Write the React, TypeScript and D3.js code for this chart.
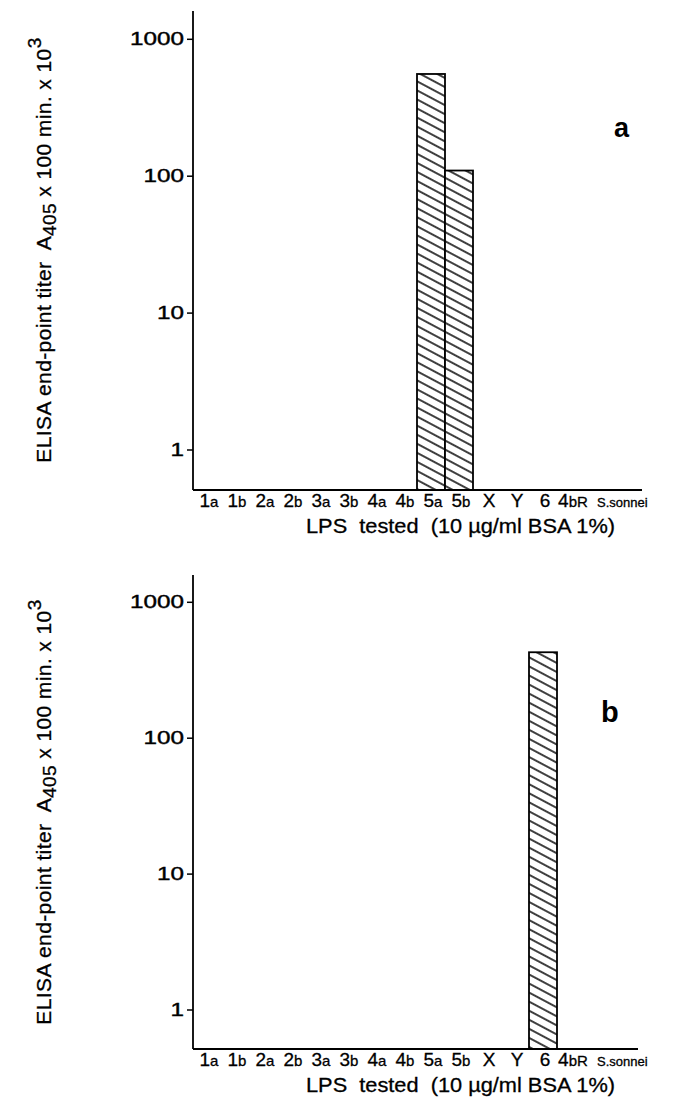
import React from 'react';
import * as d3 from 'd3';

// categories of LPS tested (same order in both panels)
const categories = ['1a', '1b', '2a', '2b', '3a', '3b', '4a', '4b', '5a', '5b', 'X', 'Y', '6', '4bR', 'S.sonnei'];

// ELISA end-point titers (x10^3), 0 = no reaction drawn
const titersA = [0, 0, 0, 0, 0, 0, 0, 0, 558, 110, 0, 0, 0, 0, 0];
const titersB = [0, 0, 0, 0, 0, 0, 0, 0, 0, 0, 0, 0, 429, 0, 0];

const yTicks = [1, 10, 100, 1000];

const FONT = '"Liberation Sans", Arial, sans-serif';
const NB = '\u00A0';

// split "5a" -> big "5" + small "a"
const splitLabel = (c: string) => {
  if (c.length === 1) return { main: c, sub: '' };
  const m = c.match(/^(\d)(.+)$/);
  if (m) return { main: m[1], sub: m[2] };
  return { main: '', sub: c };
};

type PanelProps = {
  values: number[];
  letter: string;
  y1: number;      // pixel of value 1
  y1000: number;   // pixel of value 1000
  axisTop: number;
  axisBottom: number;
  xEnd: number;
  letterX: number;
  letterY: number;
  letterSize: number;
  titleY: number;
};

const x = d3.scaleBand<string>().domain(categories).range([193, 613]).padding(0);
const X0 = 193;

const Panel = ({ values, letter, y1, y1000, axisTop, axisBottom, xEnd, letterX, letterY, letterSize, titleY }: PanelProps) => {
  const y = d3.scaleLog().domain([1, 1000]).range([y1, y1000]);
  const pid = `hatch-${letter}`;
  return (
    <g>
      <defs>
        <pattern id={pid} patternUnits="userSpaceOnUse" width={8} height={8} patternTransform="rotate(28)">
          <rect width={8} height={8} fill="#fff" />
          <line x1={0} y1={4} x2={8} y2={4} stroke="#000" strokeWidth={1.5} />
        </pattern>
      </defs>

      {/* bars */}
      {categories.map((c, i) =>
        values[i] > 0 ? (
          <rect
            key={c}
            x={x(c)}
            y={y(values[i])}
            width={x.bandwidth()}
            height={axisBottom - y(values[i])}
            fill={`url(#${pid})`}
            stroke="#000"
            strokeWidth={1.8}
          />
        ) : null
      )}

      {/* y axis */}
      <line x1={X0} y1={axisTop} x2={X0} y2={axisBottom} stroke="#000" strokeWidth={1.8} />
      {yTicks.map(t => (
        <g key={t}>
          <line x1={X0 - 6} x2={X0} y1={y(t)} y2={y(t)} stroke="#000" strokeWidth={1.5} />
          <text
            x={X0 - 9}
            y={y(t) + 6}
            textAnchor="end"
            fontFamily={FONT}
            fontSize={17.5}
            stroke="#000"
            strokeWidth={0.4}
            textLength={String(t).length * 13.5}
            lengthAdjust="spacingAndGlyphs"
          >
            {t}
          </text>
        </g>
      ))}

      {/* x axis */}
      <line x1={X0} y1={axisBottom} x2={xEnd} y2={axisBottom} stroke="#000" strokeWidth={1.8} />
      {categories.map((c, i) => {
        const { main, sub } = splitLabel(c);
        const cx = (x(c) || 0) + x.bandwidth() / 2;
        const last = i === categories.length - 1;
        return (
          <text
            key={c}
            x={last ? cx - 2 : cx + 2}
            y={axisBottom + 17}
            textAnchor={last ? 'start' : 'middle'}
            fontFamily={FONT}
            fontSize={19}
            stroke="#000"
            strokeWidth={0.3}
          >
            {main}
            {sub && <tspan fontSize={last ? 13 : 15}>{sub}</tspan>}
          </text>
        );
      })}
      <text
        x={306}
        y={axisBottom + 43}
        fontFamily={FONT}
        fontSize={21}
        stroke="#000"
        strokeWidth={0.3}
        textLength={309}
        lengthAdjust="spacingAndGlyphs"
      >
        {`LPS${NB} tested${NB} (10 µg/ml BSA 1%)`}
      </text>

      {/* y title */}
      <text
        transform={`translate(51,${titleY}) rotate(-90)`}
        textAnchor="middle"
        fontFamily={FONT}
        fontSize={21}
        letterSpacing={0.4}
        stroke="#000"
        strokeWidth={0.3}
      >
        {`ELISA end-point titer${NB} A`}<tspan fontSize={19} dy={5}>405</tspan>
        <tspan dy={-5}> x 100 min. x 10</tspan>
        <tspan fontSize={19} dy={-10}>3</tspan>
      </text>

      {/* panel letter */}
      <text x={letterX} y={letterY} fontFamily={FONT} fontWeight="bold" fontSize={letterSize}>
        {letter}
      </text>
    </g>
  );
};

export default function App() {
  return (
    <svg width={667} height={1090} style={{ display: 'block', background: '#fff' }}>
      <g transform="translate(-8,-8)">
        <Panel
          values={titersA}
          letter="a"
          y1={450}
          y1000={39.3}
          axisTop={11}
          axisBottom={490}
          xEnd={642}
          letterX={614}
          letterY={137}
          letterSize={27}
          titleY={250}
        />
        <Panel
          values={titersB}
          letter="b"
          y1={1010}
          y1000={602.3}
          axisTop={575}
          axisBottom={1049}
          xEnd={638}
          letterX={601}
          letterY={722}
          letterSize={29}
          titleY={812}
        />
      </g>
    </svg>
  );
}
